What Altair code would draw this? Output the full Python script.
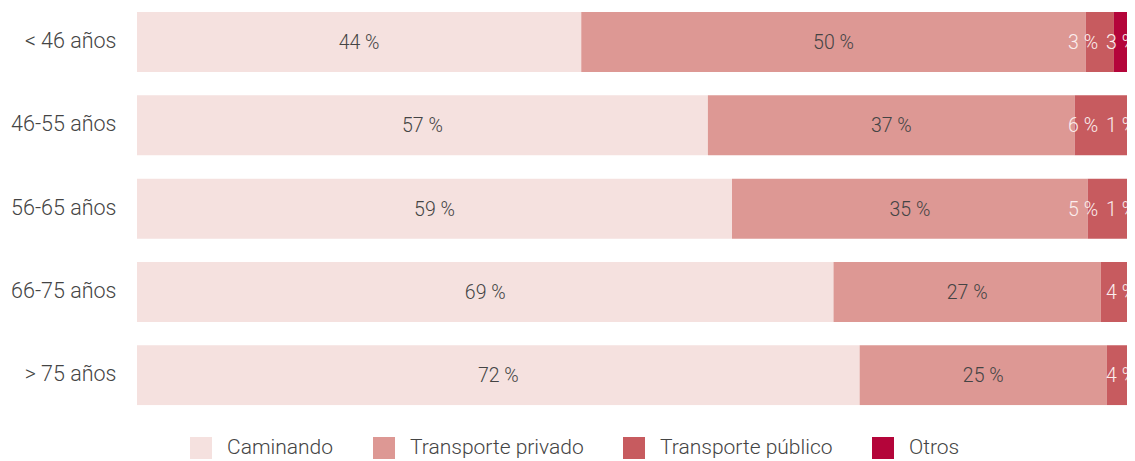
import altair as alt
import pandas as pd

ages = ["< 46 años", "46-55 años", "56-65 años", "66-75 años", "> 75 años"]
series = ["Caminando", "Transporte privado", "Transporte público", "Otros"]
caminando = [44.2, 56.8, 59.2, 69.3, 71.9]
privado = [50.2, 36.5, 35.4, 26.6, 24.6]
publico = [2.8, 5.8, 4.8, 4.1, 3.5]
otros = [2.8, 0.9, 0.6, None, None]
colors = ["#f5e1df", "#dd9894", "#c75b5f", "#b4053a"]

rows = []
for i, a in enumerate(ages):
    for k, vals in enumerate([caminando, privado, publico, otros]):
        v = vals[i]
        if v is None:
            continue
        rows.append({"age": a, "serie": series[k], "k": k, "v": v})
df = pd.DataFrame(rows)

FONT = "Roboto"

base = alt.Chart(df).transform_stack(
    stack="v", groupby=["age"], sort=[alt.SortField("k")], as_=["x0", "x1"]
).transform_joinaggregate(
    tot="max(x1)", kmax="max(k)", groupby=["age"]
).transform_calculate(
    mid="(datum.x0 + datum.x1) / 2",
    lab="format(datum.v, '.0f') + ' %'"
)

xscale = alt.Scale(domain=[0, 98.5], nice=False, zero=False)
yenc = alt.Y("age:N", sort=ages, title=None,
             scale=alt.Scale(paddingInner=0.28, paddingOuter=0),
             axis=alt.Axis(ticks=False, domain=False, labelPadding=21,
                           labelFontSize=21.5, labelColor="#444444",
                           labelFont=FONT, labelFontWeight=300))

bars = base.mark_bar(clip=True).encode(
    x=alt.X("x0:Q", scale=xscale, axis=None),
    x2="x1:Q",
    y=yenc,
    color=alt.Color("serie:N", scale=alt.Scale(domain=series, range=colors),
                    legend=alt.Legend(orient="none", legendX=53, legendY=425,
                                      direction="horizontal", title=None,
                                      symbolType="square", symbolSize=484,
                                      symbolStrokeWidth=0, symbolOpacity=1,
                                      labelFontSize=21, labelFont=FONT,
                                      labelFontWeight=300, labelColor="#444444",
                                      labelOffset=15, columnPadding=39,
                                      labelLimit=400, padding=0)),
)

big = base.transform_filter("datum.k <= 1").mark_text(
    font=FONT, fontSize=19.5, fontWeight=300, color="#444444", align="center",
    baseline="middle", dy=1, clip=True
).encode(x=alt.X("mid:Q", scale=xscale), y=alt.Y("age:N", sort=ages), text="lab:N")

small_end = base.transform_filter(
    "datum.k == 3 || (datum.k == 2 && datum.kmax == 2)"
).mark_text(
    font=FONT, fontSize=19.5, fontWeight=300, color="#fbeeee", align="right",
    baseline="middle", dx=-6, dy=1, clip=True
).encode(x=alt.X("tot:Q", scale=xscale), y=alt.Y("age:N", sort=ages), text="lab:N")

small_pub = base.transform_filter(
    "datum.k == 2 && datum.kmax == 3"
).mark_text(
    font=FONT, fontSize=19.5, fontWeight=300, color="#fbeeee", align="right",
    baseline="middle", dx=-44, dy=1, clip=True
).encode(x=alt.X("tot:Q", scale=xscale), y=alt.Y("age:N", sort=ages), text="lab:N")

chart = alt.layer(bars, big, small_end, small_pub).properties(
    width=990, height=393.3,
    autosize=alt.AutoSizeParams(type="none"),
    padding={"left": 129, "right": 0, "top": 4, "bottom": 55.7},
).configure_view(stroke=None)

chart.save("out.html", embed_options={"renderer": "svg", "actions": False})
